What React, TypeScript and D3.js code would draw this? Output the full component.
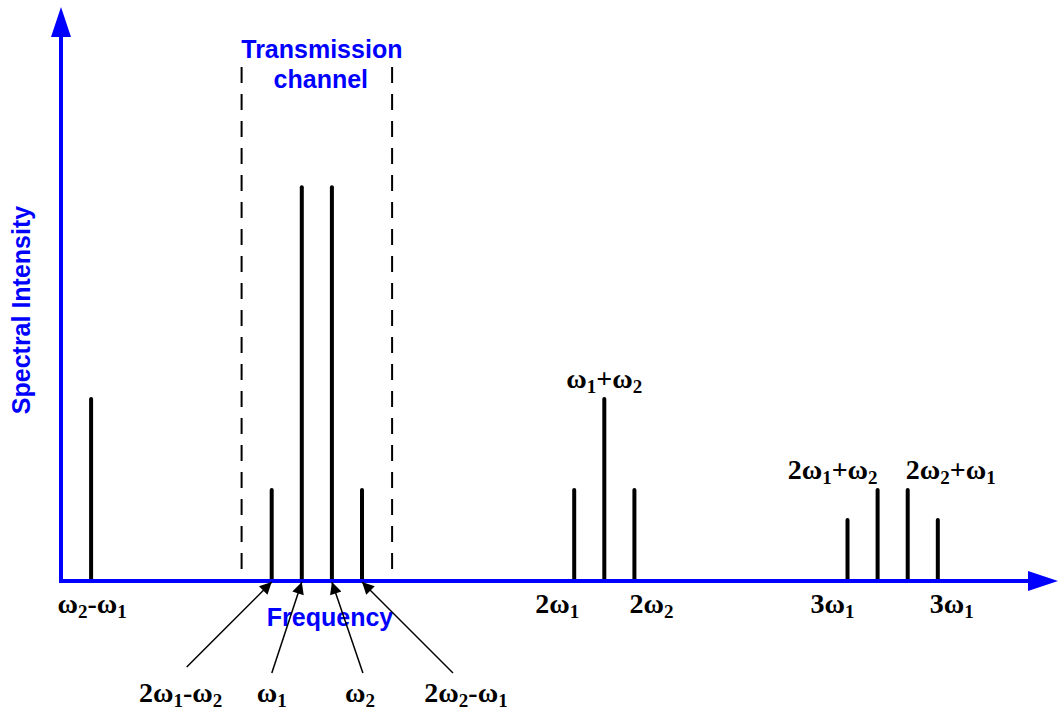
import React from 'react';
import * as d3 from 'd3';

// peak positions (frequency units) and heights (relative intensity)
const freqs = [1, 7, 8, 9, 10, 17.05, 18.05, 19.05, 26.13, 27.13, 28.13, 29.13];
const intensities = [2, 1, 4.33, 4.33, 1, 1, 2, 1, 0.67, 1, 1, 0.67];

// labels under the axis, tied to a peak index
const belowLabels = ['ω_2-ω_1', '2ω_1', '2ω_2', '3ω_1', '3ω_1'];
const belowPeaks = [0, 5, 7, 8, 11];

// labels above peaks
const aboveLabels = ['ω_1+ω_2', '2ω_1+ω_2', '2ω_2+ω_1'];
const abovePeaks = [6, 9, 10];

// arrow-annotated peaks inside the channel
const arrowLabels = ['2ω_1-ω_2', 'ω_1', 'ω_2', '2ω_2-ω_1'];
const arrowPeaks = [1, 2, 3, 4];

const channel = [6, 11];
const channelTop = 5.65;

const W = 1059;
const H = 713;
const BLUE = '#0000ff';

const x = d3.scaleLinear().domain([0, 33]).range([61, 61 + 33 * 30.1]);
const y = d3.scaleLinear().domain([0, 6.3]).range([581, 8]);

// render "ω_2-ω_1" with subscript digits
const Label = ({ text, ...rest }: { text: string; [k: string]: any }) => {
  const parts: { s: string; sub: boolean }[] = [];
  let i = 0;
  while (i < text.length) {
    if (text[i] === '_') {
      parts.push({ s: text[i + 1], sub: true });
      i += 2;
    } else {
      let j = i;
      while (j < text.length && text[j] !== '_') j++;
      parts.push({ s: text.slice(i, j), sub: false });
      i = j;
    }
  }
  let shifted = false;
  return (
    <text {...rest}>
      {parts.map((p, k) => {
        let dy = 0;
        if (p.sub && !shifted) { dy = 5; shifted = true; }
        else if (!p.sub && shifted) { dy = -5; shifted = false; }
        return (
          <tspan key={k} dy={dy} fontSize={p.sub ? 19 : 28}>{p.s}</tspan>
        );
      })}
    </text>
  );
};

const belowDx = [1, -17, 17, -15, 14];
const arrowTailDx = [-85, -30, 31, 91];
const arrowTailY = [667, 673, 673, 673];
const arrowLabelDx = [-91, -30, 28, 104];

const App = () => {
  const serif = { fontFamily: '"Liberation Serif", "Times New Roman", serif', fontWeight: 'bold', fill: '#000' } as const;
  const sans = { fontFamily: '"Liberation Sans", Arial, sans-serif', fontWeight: 'bold', fill: BLUE, fontSize: 25 } as const;
  const x0 = x(0);
  const y0 = y(0);
  const xEnd = 1058;
  return (
    <svg width={W} height={H} style={{ position: 'absolute', left: 0, top: 0 }}>
      <defs>
        <marker id="ah" viewBox="0 0 10 10" refX="10" refY="5" markerWidth="16" markerHeight="12"
          markerUnits="userSpaceOnUse" orient="auto">
          <path d="M0,0 L10,5 L0,10 z" fill="#000" />
        </marker>
      </defs>

      {/* channel dashed borders */}
      {channel.map((c, i) => (
        <line key={i} x1={x(c)} x2={x(c)} y1={y(channelTop)} y2={y0 - 2}
          stroke="#000" strokeWidth={2} strokeDasharray="16 11" />
      ))}
      <text {...sans} x={(x(channel[0]) + x(channel[1])) / 2 + 5} y={58} textAnchor="middle">Transmission</text>
      <text {...sans} x={(x(channel[0]) + x(channel[1])) / 2 + 4} y={88} textAnchor="middle">channel</text>

      {/* peaks */}
      {freqs.map((f, i) => (
        <line key={i} x1={x(f)} x2={x(f)} y1={y0} y2={y(intensities[i])}
          stroke="#000" strokeWidth={4} strokeLinecap="round" />
      ))}

      {/* axes */}
      <line x1={x0} x2={x0} y1={y0 + 2} y2={30} stroke={BLUE} strokeWidth={4} />
      <path d={`M${x0 - 10},37 L${x0},7 L${x0 + 10},37 z`} fill={BLUE} />
      <line x1={x0 - 2} x2={xEnd - 25} y1={y0} y2={y0} stroke={BLUE} strokeWidth={4} />
      <path d={`M${xEnd - 30},${y0 - 10} L${xEnd},${y0} L${xEnd - 30},${y0 + 10} z`} fill={BLUE} />

      <text {...sans} transform={`translate(30,${310}) rotate(-90)`} textAnchor="middle">Spectral Intensity</text>
      <text {...sans} x={330} y={626} textAnchor="middle">Frequency</text>

      {/* labels below the axis */}
      {belowLabels.map((t, i) => (
        <Label key={i} text={t} {...serif} x={x(freqs[belowPeaks[i]]) + belowDx[i]} y={613} textAnchor="middle" />
      ))}

      {/* labels above peaks */}
      {aboveLabels.map((t, i) => {
        const p = abovePeaks[i];
        const dx = i === 0 ? 0 : i === 1 ? -45 : 43;
        return (
          <Label key={i} text={t} {...serif} x={x(freqs[p]) + dx} y={y(intensities[p]) - 11} textAnchor="middle" />
        );
      })}

      {/* arrows into the channel */}
      {arrowLabels.map((t, i) => {
        const px = x(freqs[arrowPeaks[i]]);
        return (
          <g key={i}>
            <line x1={px + arrowTailDx[i]} y1={arrowTailY[i]} x2={px} y2={y0 + 1}
              stroke="#000" strokeWidth={1.5} markerEnd="url(#ah)" />
            <Label text={t} {...serif} x={px + arrowLabelDx[i]} y={702} textAnchor="middle" />
          </g>
        );
      })}
    </svg>
  );
};

export default App;
